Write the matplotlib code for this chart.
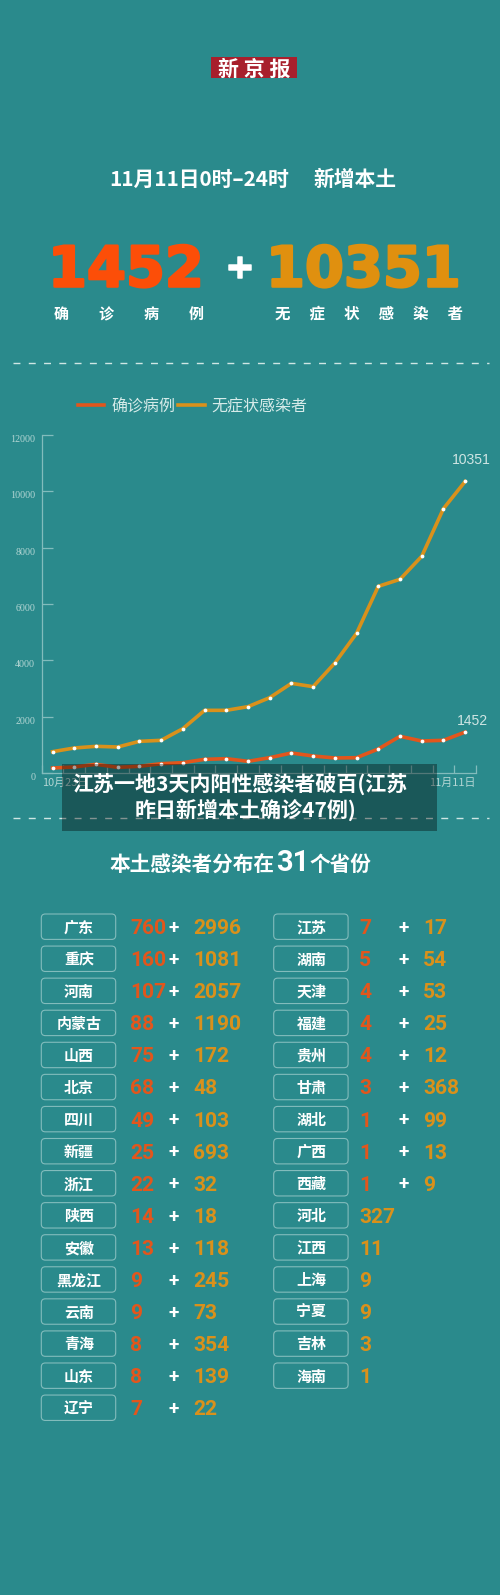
import matplotlib
matplotlib.use("Agg")
import matplotlib.pyplot as plt
from matplotlib.patches import FancyBboxPatch, Rectangle
from matplotlib.lines import Line2D
import matplotlib.patheffects as pe

dates = ["10月23日", "11月11日"]
confirmed = [178, 213, 308, 201, 237, 331, 367, 485, 509, 414, 544, 710, 604, 533, 544, 852, 1302, 1136, 1160, 1452]
asymptomatic = [757, 888, 947, 923, 1124, 1160, 1574, 2225, 2225, 2355, 2675, 3183, 3065, 3905, 4959, 6627, 6876, 7692, 9385, 10351]
y_ticks = [0, 2000, 4000, 6000, 8000, 10000, 12000]

left_names = ["广东", "重庆", "河南", "内蒙古", "山西", "北京", "四川", "新疆", "浙江", "陕西", "安徽", "黑龙江", "云南", "青海", "山东", "辽宁"]
left_conf = [760, 160, 107, 88, 75, 68, 49, 25, 22, 14, 13, 9, 9, 8, 8, 7]
left_asym = [2996, 1081, 2057, 1190, 172, 48, 103, 693, 32, 18, 118, 245, 73, 354, 139, 22]
right_names = ["江苏", "湖南", "天津", "福建", "贵州", "甘肃", "湖北", "广西", "西藏", "河北", "江西", "上海", "宁夏", "吉林", "海南"]
right_conf = [7, 5, 4, 4, 4, 3, 1, 1, 1, None, None, None, None, None, None]
right_asym = [17, 54, 53, 25, 12, 368, 99, 13, 9, 327, 11, 9, 9, 3, 1]

W, H = 500, 1595
BG = "#2a8a8c"
RED = "#e2561c"
ORG = "#d9911b"
CJK = ["Noto Sans CJK SC", "DejaVu Sans"]
px = 72 / 100

fig = plt.figure(figsize=(W / 100, H / 100), dpi=100, facecolor=BG)
bg = fig.add_axes([0, 0, 1, 1], zorder=0)
bg.set_xlim(0, W); bg.set_ylim(H, 0); bg.axis("off")


def T(x, y, s, size, color="white", ha="center", weight="bold", family=CJK, ax=bg, **kw):
    return ax.text(x, y + 0.09 * size, s, fontsize=size * px, color=color, ha=ha, va="center",
                   fontweight=weight, family=family, **kw)


# header
bg.add_patch(Rectangle((211, 57.3), 85.7, 21, fc="#a81f2c", ec="none"))
T(254, 67.3, "新 京 报", 21)
T(109, 177.5, "11月11日0时–24时", 20.8, ha="left")
T(313.3, 177.5, "新增本土", 20.8, ha="left")

# headline figures
big = dict(weight="bold", family=["DejaVu Sans"], ha="left")
thick = lambda c, w=2.5: [pe.withStroke(linewidth=w * px, foreground=c)]
T(48, 266.5, "1452", 56, "#fc4e08", path_effects=thick("#fc4e08"), **big)
T(240, 267, "+", 43, "white", ha="center", weight="bold", family=["Liberation Sans"], path_effects=thick("white", 1.5))
T(266, 266.5, "10351", 56, "#e0900f", path_effects=thick("#e0900f"), **big)
T(129, 312, "确\u3000\u3000诊\u3000\u3000病\u3000\u3000例", 15)
T(368.7, 312, "无\u3000 症\u3000 状\u3000 感\u3000 染\u3000 者", 15.5)

for yy in (362.7, 818):
    bg.plot([13, 489], [yy, yy], color="#cfe6e4", lw=1.0, dashes=(5, 6))

# line chart
x0, x1, ytop, ybot = 41.7, 476, 435, 773
ax = fig.add_axes([x0 / W, 1 - ybot / H, (x1 - x0) / W, (ybot - ytop) / H], zorder=1)
ax.patch.set_alpha(0)
xs = list(range(len(confirmed)))
line_style = dict(lw=3.6 * px, marker="o", ms=3.8 * px, mfc="white", mec="white", mew=0, clip_on=False)
ax.plot(xs, asymptomatic, color=ORG, **line_style)
ax.plot(xs, confirmed, color=RED, **line_style)
ax.set_xlim(-0.5, len(xs) - 0.5)
ax.set_ylim(0, 12000)
AXC = "#82bcbc"
for s in ("top", "right"):
    ax.spines[s].set_visible(False)
for s in ("left", "bottom"):
    ax.spines[s].set_color(AXC); ax.spines[s].set_linewidth(0.9)
edges = [i - 0.5 for i in range(len(xs) + 1)]
ax.set_xticks(edges)
ax.set_xticklabels([dates[0]] + [""] * (len(edges) - 2) + [dates[1]], family=CJK, fontsize=11 * px, color="#b4d6d4")
xl = ax.get_xticklabels()
xl[0].set_ha("left"); xl[-1].set_ha("right")
ax.set_yticks(y_ticks)
ax.set_yticklabels([str(v) for v in y_ticks], family=["Liberation Serif"], fontsize=10 * px, color="#b4d6d4", va="top")
ax.tick_params(axis="x", direction="in", length=8 * px, width=0.9, color=AXC, pad=5 * px)
ax.tick_params(axis="y", direction="in", length=11 * px, width=0.9, color=AXC, pad=6.5 * px)
ax.annotate(str(asymptomatic[-1]), (xs[-1], asymptomatic[-1]), xytext=(6.5 * px, 21 * px), textcoords="offset points",
            ha="center", va="center", color="#cfe5e3", fontsize=14 * px, family=["Liberation Sans"])
ax.annotate(str(confirmed[-1]), (xs[-1], confirmed[-1]), xytext=(7 * px, 11 * px), textcoords="offset points",
            ha="center", va="center", color="#cfe5e3", fontsize=14 * px, family=["Liberation Sans"])

# legend
handles = [Line2D([], [], color=RED, lw=3.6 * px), Line2D([], [], color=ORG, lw=3.6 * px)]
leg = fig.legend(handles, ["确诊病例", "无症状感染者"], ncol=2, frameon=False, loc="center left",
                 bbox_to_anchor=(77.7 / W, 1 - 406.5 / H), borderpad=0, borderaxespad=0,
                 handlelength=1.67, handletextpad=0.42, columnspacing=0.19,
                 prop={"family": CJK, "size": 16 * px})
for t in leg.get_texts():
    t.set_color("#d6ebe9")

# section title
T(109.3, 863, "本土感染者分布在", 20.7, ha="left")
T(293, 860, "31", 29, family=["Roboto"])
T(310, 863, "个省份", 20.7, ha="left")


# province table
def table(names, conf, asym, xbox, xnum, xplus, xasym):
    num = dict(ha="left", weight="bold", family=["Roboto"])
    for i, n in enumerate(names):
        yc = 926.7 + i * 32.07
        bg.add_patch(FancyBboxPatch((xbox + 2.5, yc - 10.2), 74.4 - 5, 25.4 - 5, boxstyle="round,pad=2.5,rounding_size=4",
                                    fc="none", ec="#82bcbc", lw=0.8))
        T(xbox + 37.7, yc - 0.5, n, 15)
        if conf[i] is None:
            T(xnum, yc, str(asym[i]), 21, ORG, **num)
            continue
        T(xnum, yc, str(conf[i]), 21, RED, **num)
        T(xplus, yc - 0.5, "+", 19, ha="center", weight="bold", family=["Roboto"])
        T(xasym, yc, str(asym[i]), 21, ORG, **num)


table(left_names, left_conf, left_asym, 41.3, 130, 173.7, 193.3)
table(right_names, right_conf, right_asym, 273.7, 359.3, 404, 423)

# caption overlay
fg = fig.add_axes([0, 0, 1, 1], zorder=2)
fg.set_xlim(0, W); fg.set_ylim(H, 0); fg.axis("off"); fg.patch.set_alpha(0)
fg.add_patch(Rectangle((62, 764), 375, 66.7, fc="black", alpha=0.36, ec="none"))
T(239.7, 781.5, "江苏一地3天内阳性感染者破百(江苏", 21, ax=fg, weight=900)
T(245.8, 808, "昨日新增本土确诊47例)", 21, ax=fg, weight=900)

fig.savefig("out.png", dpi=100, facecolor=BG)
